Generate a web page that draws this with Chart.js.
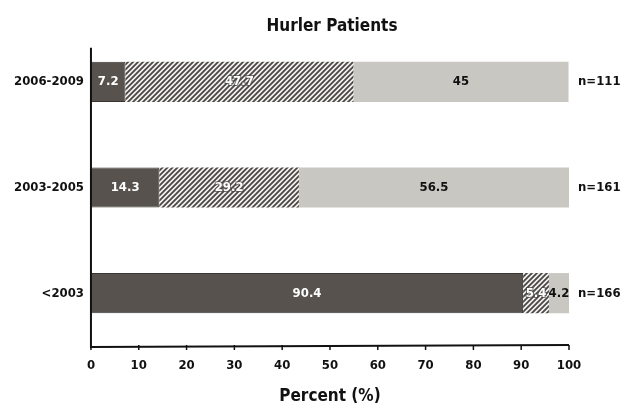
<!DOCTYPE html>
<html><head><meta charset="utf-8">
<script src="https://cdn.jsdelivr.net/npm/chart.js@4"></script>
<style>html,body{margin:0;padding:0;background:#fff;}#wrap{width:624px;height:414px;position:relative;}</style>
</head><body><div id="wrap"><canvas id="c" width="624" height="414"></canvas></div>
<script>
const categories = ["2006-2009", "2003-2005", "<2003"];
const sampleSizes = ["n=111", "n=161", "n=166"];
const darkValues = [7.2, 14.3, 90.4];
const hatchValues = [47.7, 29.2, 5.4];
const lightValues = [45, 56.5, 4.2];
const xTicks = [0,10,20,30,40,50,60,70,80,90,100];
const chartTitle = "Hurler Patients";

const FONT = "'DejaVu Sans Condensed','Liberation Sans Narrow',Arial,sans-serif";

function hatchPattern(){
  const s = 5;
  const c = document.createElement('canvas'); c.width = s; c.height = s;
  const x = c.getContext('2d');
  x.fillStyle = '#f2f2f0'; x.fillRect(0,0,s,s);
  x.strokeStyle = '#4a4643'; x.lineWidth = 1.8;
  x.beginPath();
  x.moveTo(0,s); x.lineTo(s,0);
  x.moveTo(-s/2,s/2); x.lineTo(s/2,-s/2);
  x.moveTo(s/2,s*1.5); x.lineTo(s*1.5,s/2);
  x.stroke();
  return x.createPattern(c,'repeat');
}

const labelPlugin = {
  id:'labels',
  afterDatasetsDraw(chart){
    const ctx = chart.ctx;
    const ys = chart.scales.y, xs = chart.scales.x;
    ctx.save();
    ctx.font = "bold 17px " + FONT;
    ctx.textAlign='center'; ctx.textBaseline='middle'; ctx.fillStyle='#111';
    ctx.fillText(chartTitle, 332, 27);
    ctx.font = "bold 13px " + FONT;
    chart.data.datasets.forEach((ds,di)=>{
      const meta = chart.getDatasetMeta(di);
      meta.data.forEach((bar,i)=>{
        const v = ds.data[i];
        let cx = (bar.x + bar.base)/2;
        if (di===1){
          ctx.lineWidth = 2; ctx.strokeStyle = 'rgba(70,66,62,0.7)';
          ctx.strokeText(String(v), cx, bar.y);
          ctx.fillStyle = '#ffffff';
        } else if (di===0) ctx.fillStyle = '#ffffff';
        else ctx.fillStyle = '#111';
        ctx.fillText(String(v), cx, bar.y);
      });
    });
    ctx.textAlign='left'; ctx.fillStyle='#111';
    sampleSizes.forEach((t,i)=>{
      ctx.fillText(t, xs.getPixelForValue(100)+9, ys.getPixelForValue(i));
    });
    ctx.strokeStyle='#111'; ctx.lineWidth=2;
    const x0 = xs.getPixelForValue(0), x1 = xs.getPixelForValue(100);
    const yb = chart.chartArea.bottom;
    ctx.beginPath();
    ctx.moveTo(x0, ys.getPixelForValue(0)-34); ctx.lineTo(x0, yb+1);
    ctx.lineTo(x1, yb-1); ctx.stroke();
    ctx.lineWidth=1.5;
    xTicks.forEach(t=>{
      const px = xs.getPixelForValue(t);
      ctx.beginPath(); ctx.moveTo(px, yb-1); ctx.lineTo(px, yb+4); ctx.stroke();
    });
    ctx.restore();
  }
};

new Chart(document.getElementById('c'), {
  type:'bar',
  data:{
    labels: categories,
    datasets:[
      {data: darkValues, backgroundColor:'#57524d', borderColor:'#3a3633', borderWidth:1},
      {data: hatchValues, backgroundColor: hatchPattern(), borderWidth:0},
      {data: lightValues, backgroundColor:'#c9c7c2', borderWidth:0}
    ]
  },
  options:{
    indexAxis:'y', responsive:false, animation:false,
    layout:{padding:{left:7,right:55,top:29,bottom:7}},
    plugins:{ legend:{display:false}, tooltip:{enabled:false}, title:{display:false} },
    scales:{
      x:{stacked:true, min:0, max:100,
        afterBuildTicks(s){ s.ticks = xTicks.map(v=>({value:v})); },
        grid:{display:false, drawTicks:false}, border:{display:false},
        ticks:{color:'#111', font:{family:FONT, size:13, weight:'bold'}, padding:12},
        title:{display:true, text:'Percent (%)', color:'#111',
          font:{family:FONT, size:17, weight:'bold'}, padding:{top:1, bottom:0}}
      },
      y:{stacked:true,
        grid:{display:false, drawTicks:false}, border:{display:false},
        ticks:{color:'#111', font:{family:FONT, size:13, weight:'bold'}, padding:7}
      }
    },
    datasets:{bar:{categoryPercentage:1, barPercentage:0.38}}
  },
  plugins:[labelPlugin]
});
</script></body></html>
